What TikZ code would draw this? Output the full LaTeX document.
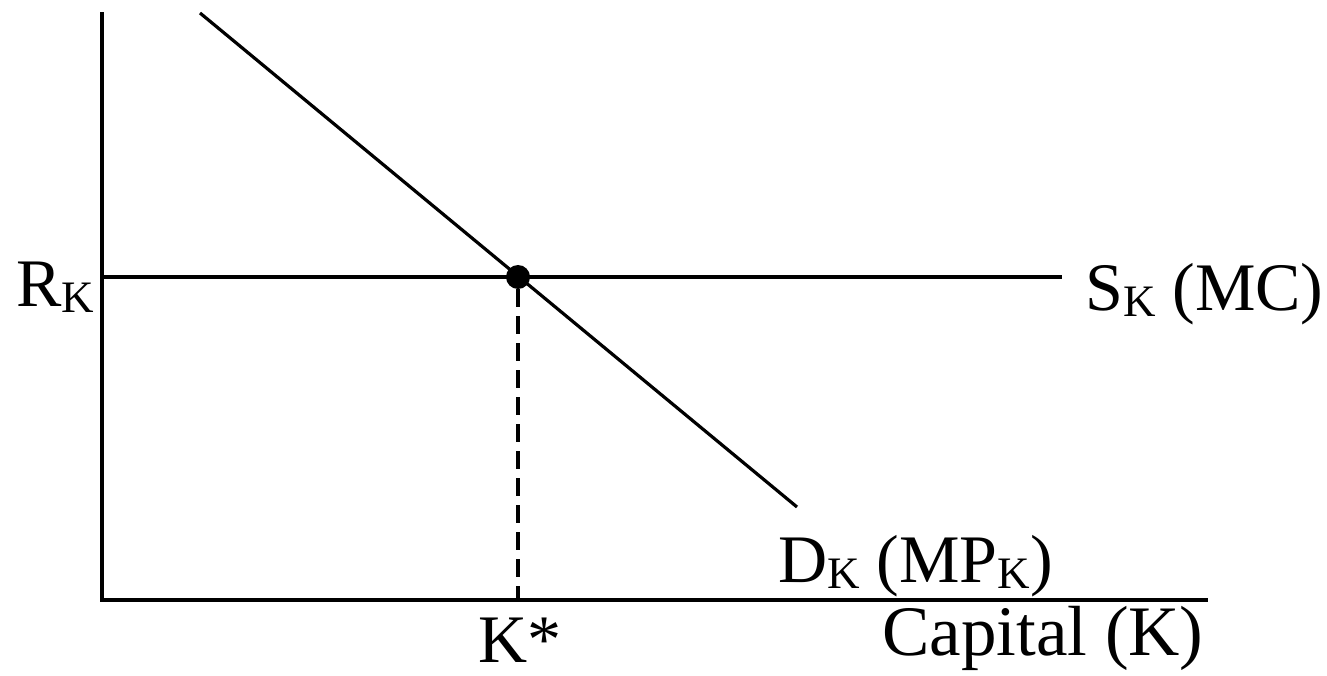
\documentclass[tikz,border=0pt]{standalone}
\usepackage{fontspec}
\setmainfont{Liberation Serif}
\newcommand{\subK}{\raisebox{-6pt}{\fontsize{45}{50}\selectfont K}}
\tikzset{
  axis/.style={line width=3.4pt, line cap=rect},
  curve/.style={line width=3.2pt},
  guide/.style={line width=3.2pt, dash pattern=on 18pt off 9pt},
  dot/.style={circle, fill=black, inner sep=0pt, minimum size=24pt},
  lbl/.style={anchor=base west, inner sep=0pt, font=\fontsize{68}{80}\selectfont}
}
\begin{document}
\begin{tikzpicture}[x=1pt,y=-1pt]
\useasboundingbox (0,0) rectangle (1327,676);
\coordinate (o) at (102,600);
\coordinate (ytop) at (102,14);
\coordinate (xend) at (1206,600);
\coordinate (d1) at (200,13);
\coordinate (d2) at (797,507);
\coordinate (r0) at (102,277);
\coordinate (r1) at (1062,277);
\coordinate (kstar) at (518,600);
\draw[axis] (ytop) -- (o) -- (xend);
\draw[curve] (r0) -- (r1);
\draw[curve] (d1) -- (d2);
\node[dot] (eq) at (518,277) {};
\draw[guide] (eq.south) -- (kstar);
\node[lbl] (rk) at (16,306) {R\subK};
\node[lbl] (sk) at (1085,310) {S\subK{} (MC)};
\node[lbl] (dk) at (778,582) {D\subK{} (MP\subK)};
\node[lbl] (ks) at (478,662) {K*};
\node[lbl, font=\fontsize{71}{80}\selectfont] (cap) at (882,655) {Capital (K)};
\end{tikzpicture}
\end{document}
